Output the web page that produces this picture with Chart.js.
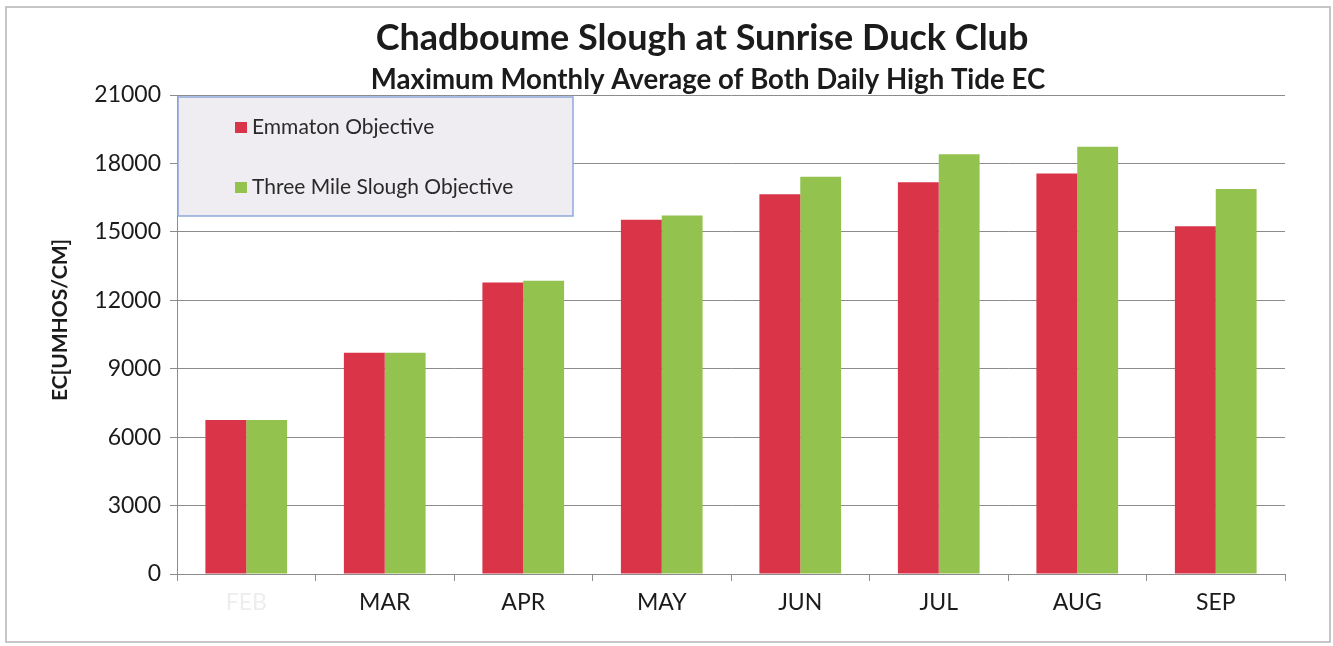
<!DOCTYPE html>
<html>
<head>
<meta charset="utf-8">
<script src="https://cdn.jsdelivr.net/npm/chart.js@4/dist/chart.umd.min.js"></script>
<style>
html, body { margin: 0; padding: 0; background: #fff; }
#wrap { position: relative; width: 1333px; height: 646px; }
</style>
</head>
<body>
<div id="wrap"><canvas id="ecChart" width="1333" height="646"></canvas></div>
<script>
const months = ['FEB', 'MAR', 'APR', 'MAY', 'JUN', 'JUL', 'AUG', 'SEP']
const emmatonObjective = [6750, 9700, 12780, 15530, 16650, 17180, 17560, 15250]
const threeMileObjective = [6750, 9700, 12860, 15720, 17420, 18400, 18730, 16880]
const seriesNames = ['Emmaton Objective', 'Three Mile Slough Objective']
const chartTitle = 'Chadboume Slough at Sunrise Duck Club'
const chartSubtitle = 'Maximum Monthly Average of Both Daily High Tide EC'
const yAxisTitle = 'EC[UMHOS/CM]'

const FONT = 'Lato, "Open Sans", sans-serif'
const TEXT = '#1b1b1b'
const GRID = '#8c8c8c'

// frame, titles and the rotated y-axis caption
const titlePlugin = {
    id: 'titles',
    beforeDraw(chart){
        const ctx = chart.ctx
        ctx.save()
        ctx.strokeStyle = '#b4b4b4'
        ctx.lineWidth = 1.5
        ctx.strokeRect(6, 7, 1324, 635)
        ctx.restore()
    },
    afterDraw(chart){
        const ctx = chart.ctx
        ctx.save()
        ctx.fillStyle = TEXT
        ctx.textAlign = 'center'
        ctx.textBaseline = 'middle'
        ctx.font = 'bold 36px ' + FONT
        ctx.fillText(chartTitle, 702, 38)
        ctx.font = 'bold 27.6px ' + FONT
        ctx.fillText(chartSubtitle, 708, 80)

        ctx.translate(60, 320)
        ctx.rotate(-Math.PI / 2)
        ctx.font = 'bold 21px ' + FONT
        ctx.fillText(yAxisTitle, 0, 0)
        ctx.restore()
    }
}

// boxed legend sitting in the top-left corner of the plot
const boxLegend = {
    id: 'boxLegend',
    afterDatasetsDraw(chart){
        const ctx = chart.ctx
        const x = chart.chartArea.left + 1
        const y = chart.chartArea.top + 2
        ctx.save()
        ctx.fillStyle = '#efedf1'
        ctx.fillRect(x, y, 395, 119)
        ctx.strokeStyle = '#8ea9db'
        ctx.lineWidth = 1.5
        ctx.strokeRect(x, y, 395, 119)
        ctx.font = '21px ' + FONT
        ctx.textBaseline = 'middle'
        chart.data.datasets.forEach((ds, i) => {
            const cy = y + 30 + i * 60
            ctx.fillStyle = ds.backgroundColor
            ctx.fillRect(x + 57, cy - 5, 12, 11)
            ctx.fillStyle = '#2a2a2a'
            ctx.fillText(ds.label, x + 74, cy)
        })
        ctx.restore()
    }
}

new Chart(document.getElementById('ecChart'), {
    type: 'bar',
    data: {
        labels: months,
        datasets: [
            { label: seriesNames[0], data: emmatonObjective, backgroundColor: '#d93448' },
            { label: seriesNames[1], data: threeMileObjective, backgroundColor: '#93c24f' }
        ]
    },
    options: {
        responsive: false,
        animation: false,
        devicePixelRatio: 1,
        layout: { padding: { top: 95, right: 48, left: 0, bottom: 0 } },
        datasets: { bar: { categoryPercentage: 0.59, barPercentage: 1 } },
        plugins: {
            legend: { display: false },
            tooltip: { enabled: false }
        },
        scales: {
            x: {
                afterFit: (scale) => { scale.height = 72 },
                grid: { offset: true, drawOnChartArea: false, color: GRID, tickLength: 7 },
                border: { color: GRID },
                ticks: {
                    padding: 8,
                    font: { family: FONT, size: 23 },
                    color: (c) => c.index === 0 ? '#ededed' : TEXT
                }
            },
            y: {
                min: 0,
                max: 21000,
                afterFit: (scale) => { scale.width = 177 },
                grid: { color: GRID, tickLength: 7 },
                border: { color: GRID },
                ticks: {
                    stepSize: 3000,
                    padding: 9,
                    font: { family: FONT, size: 23 },
                    color: TEXT,
                    callback: (v) => String(v)
                }
            }
        }
    },
    plugins: [titlePlugin, boxLegend]
})
</script>
</body>
</html>
